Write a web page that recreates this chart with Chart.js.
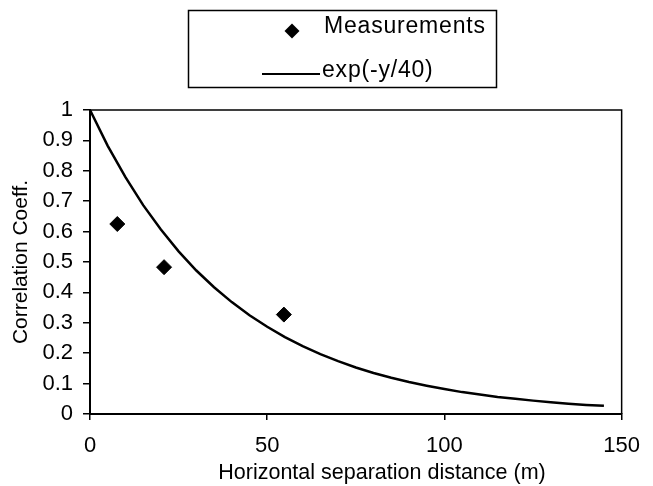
<!DOCTYPE html>
<html>
<head>
<meta charset="utf-8">
<script src="https://cdn.jsdelivr.net/npm/chart.js@4"></script>
<style>
  body { margin: 0; background: #fff; }
</style>
</head>
<body>
<canvas id="myChart" width="653" height="486"></canvas>
<script>
// measured correlation points
const measX = [7.7, 20.9, 54.7];
const measY = [0.625, 0.483, 0.327];

// fitted curve, every 5 m
const curveX = [0, 5, 10, 15, 20, 25, 30, 35, 40, 45, 50, 55, 60, 65, 70,
  75, 80, 85, 90, 95, 100, 105, 110, 115, 120, 125, 130, 135, 140, 145];
const curveY = [1.000, 0.882, 0.779, 0.687, 0.607, 0.535, 0.472, 0.417, 0.368, 0.325,
  0.287, 0.253, 0.223, 0.197, 0.174, 0.153, 0.135, 0.119, 0.105, 0.093,
  0.082, 0.072, 0.064, 0.056, 0.050, 0.044, 0.039, 0.034, 0.030, 0.027];

const xTicks = [0, 50, 100, 150];
const yTicks = [0, 0.1, 0.2, 0.3, 0.4, 0.5, 0.6, 0.7, 0.8, 0.9, 1];

const xTitle = 'Horizontal separation distance (m)';
const yTitle = 'Correlation Coeff.';

const fontFamily = "Arial, 'Liberation Sans', sans-serif";

// box round the plot area, like the excel frame
const frame = {
  id: 'frame',
  afterDatasetsDraw(chart) {
    const { ctx, chartArea } = chart;
    ctx.save();
    ctx.strokeStyle = '#000';
    ctx.lineWidth = 1.5;
    ctx.beginPath();
    ctx.moveTo(chartArea.left, chartArea.top);
    ctx.lineTo(chartArea.right, chartArea.top);
    ctx.lineTo(chartArea.right, chartArea.bottom);
    ctx.stroke();
    ctx.restore();
  }
};

// x title sits a bit right of the plot centre in the original
const xTitleLabel = {
  id: 'xTitleLabel',
  afterDraw(chart) {
    const ctx = chart.ctx;
    ctx.save();
    ctx.fillStyle = '#000';
    ctx.font = '21.5px ' + fontFamily;
    ctx.textAlign = 'center';
    ctx.textBaseline = 'middle';
    ctx.fillText(xTitle, 382, 473);
    ctx.restore();
  }
};

// legend box with one entry per row
const boxLegend = {
  id: 'boxLegend',
  afterDraw(chart) {
    const ctx = chart.ctx;
    const sets = chart.data.datasets;
    ctx.save();
    ctx.strokeStyle = '#000';
    ctx.lineWidth = 1.5;
    ctx.strokeRect(188.5, 10.5, 308, 77);
    ctx.fillStyle = '#000';
    ctx.font = '23px ' + fontFamily;
    ctx.letterSpacing = '0.8px';
    ctx.textBaseline = 'middle';
    ctx.textAlign = 'left';

    // row 1: diamond marker
    const mx = 292, my = 31, r = 7.5;
    ctx.beginPath();
    ctx.moveTo(mx, my - r);
    ctx.lineTo(mx + r, my);
    ctx.lineTo(mx, my + r);
    ctx.lineTo(mx - r, my);
    ctx.closePath();
    ctx.fill();
    ctx.fillText(sets[0].label, 324, 27);

    // row 2: line sample
    const ly = 74;
    ctx.lineWidth = 2;
    ctx.beginPath();
    ctx.moveTo(262, ly);
    ctx.lineTo(320, ly);
    ctx.stroke();
    ctx.fillText(sets[1].label, 322, 71);
    ctx.restore();
  }
};

const ctx = document.getElementById('myChart').getContext('2d');
const chart = new Chart(ctx, {
  type: 'scatter',
  data: {
    datasets: [{
      label: 'Measurements',
      data: measX.map((x, i) => ({ x: x, y: measY[i] })),
      pointStyle: 'rectRot',
      pointRadius: 7.5,
      backgroundColor: '#000',
      borderColor: '#000',
      borderWidth: 1,
      order: 1
    }, {
      label: 'exp(-y/40)',
      type: 'line',
      data: curveX.map((x, i) => ({ x: x, y: curveY[i] })),
      borderColor: '#000',
      borderWidth: 2.5,
      pointRadius: 0,
      tension: 0,
      fill: false,
      order: 2
    }]
  },
  options: {
    responsive: false,
    animation: false,
    devicePixelRatio: 1,
    layout: { padding: { top: 110, right: 19, left: 0, bottom: 0 } },
    plugins: {
      legend: { display: false },
      tooltip: { enabled: false }
    },
    scales: {
      x: {
        type: 'linear',
        min: 0,
        max: 150,
        afterBuildTicks: (scale) => { scale.ticks = xTicks.map(v => ({ value: v })); },
        afterFit: (scale) => { scale.height = 72; },
        grid: { drawOnChartArea: false, drawTicks: true, tickLength: 6, color: '#000', lineWidth: 1.5 },
        border: { display: true, color: '#000', width: 2 },
        ticks: { color: '#000', padding: 13, font: { family: fontFamily, size: 22 } },
        title: { display: false, text: xTitle }
      },
      y: {
        min: 0,
        max: 1,
        afterBuildTicks: (scale) => { scale.ticks = yTicks.map(v => ({ value: v })); },
        afterFit: (scale) => { scale.width = 90; },
        grid: { drawOnChartArea: false, drawTicks: true, tickLength: 7, color: '#000', lineWidth: 1.5 },
        border: { display: true, color: '#000', width: 2 },
        ticks: {
          color: '#000',
          padding: 10,
          font: { family: fontFamily, size: 22 },
          callback: (v) => String(Math.round(v * 10) / 10)
        },
        title: {
          display: true,
          text: yTitle,
          color: '#000',
          font: { family: fontFamily, size: 21 },
          padding: { top: 9, bottom: 0 }
        }
      }
    }
  },
  plugins: [frame, xTitleLabel, boxLegend]
});
</script>
</body>
</html>
